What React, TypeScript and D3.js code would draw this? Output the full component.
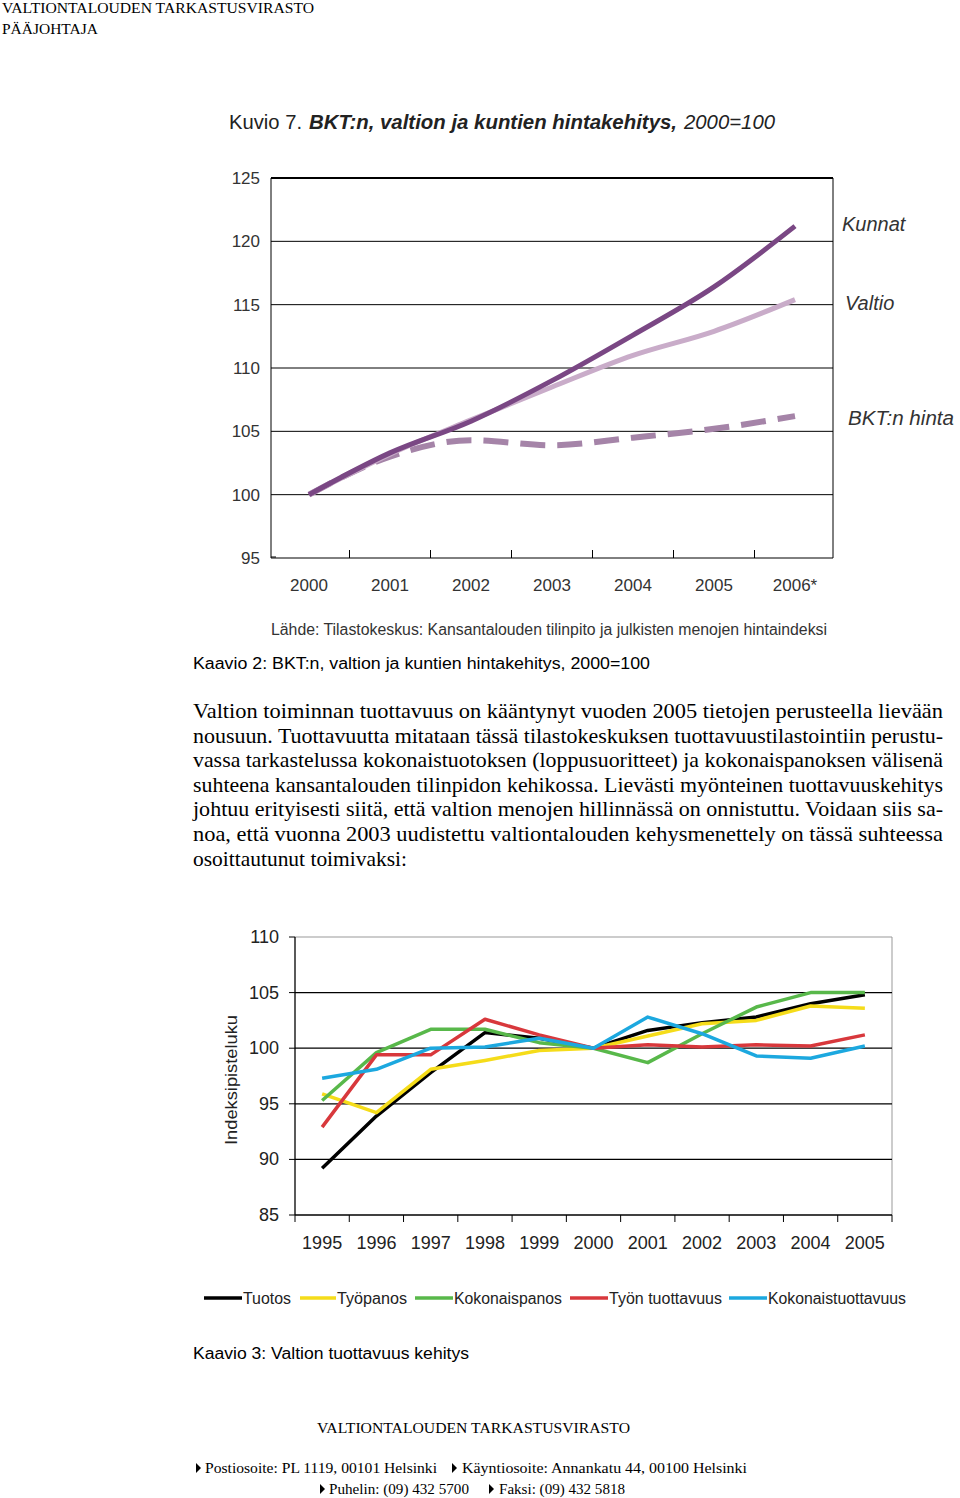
import React from 'react';
import * as d3 from 'd3';

// ---- Chart 1 data: price development, 2000=100 ----
const priceYears = ['2000', '2001', '2002', '2003', '2004', '2005', '2006*'];
const kunnat = [100, 103.3, 105.8, 109.0, 112.6, 116.4, 121.2];
const valtio = [100, 103.2, 105.9, 108.5, 111.0, 112.9, 115.4];
const bktHinta = [100, 103.0, 104.3, 103.9, 104.5, 105.2, 106.2];
const priceTicks = [95, 100, 105, 110, 115, 120, 125];

// ---- Chart 2 data: state productivity ----
const prodYears = ['1995', '1996', '1997', '1998', '1999', '2000', '2001', '2002', '2003', '2004', '2005'];
const tuotos = [89.2, 93.9, 97.8, 101.4, 100.9, 100, 101.6, 102.3, 102.8, 104.0, 104.8];
const tyopanos = [95.9, 94.2, 98.1, 98.9, 99.8, 100, 101.1, 102.2, 102.5, 103.8, 103.6];
const kokonaispanos = [95.3, 99.6, 101.7, 101.7, 100.5, 100, 98.7, 101.3, 103.7, 105.0, 105.0];
const tyonTuottavuus = [92.9, 99.4, 99.4, 102.6, 101.2, 100, 100.3, 100.1, 100.3, 100.2, 101.2];
const kokonaistuottavuus = [97.3, 98.1, 100.0, 100.1, 100.9, 100, 102.8, 101.3, 99.3, 99.1, 100.2];
const prodTicks = [85, 90, 95, 100, 105, 110];

const prodSeries = [
  { name: 'Tuotos', values: tuotos, color: '#000000', len: 48 },
  { name: 'Työpanos', values: tyopanos, color: '#f5dc1a', len: 70 },
  { name: 'Kokonaispanos', values: kokonaispanos, color: '#58b84a', len: 108 },
  { name: 'Työn tuottavuus', values: tyonTuottavuus, color: '#d8383c', len: 113 },
  { name: 'Kokonaistuottavuus', values: kokonaistuottavuus, color: '#1ca8df', len: 138 },
];

const paragraph = [
  'Valtion toiminnan tuottavuus on kääntynyt vuoden 2005 tietojen perusteella lievään',
  'nousuun. Tuottavuutta mitataan tässä tilastokeskuksen tuottavuustilastointiin perustu-',
  'vassa tarkastelussa kokonaistuotoksen (loppusuoritteet) ja kokonaispanoksen välisenä',
  'suhteena kansantalouden tilinpidon kehikossa. Lievästi myönteinen tuottavuuskehitys',
  'johtuu erityisesti siitä, että valtion menojen hillinnässä on onnistuttu. Voidaan siis sa-',
  'noa, että vuonna 2003 uudistettu valtiontalouden kehysmenettely on tässä suhteessa',
  'osoittautunut toimivaksi:',
];

const SANS = 'Liberation Sans, Arial, sans-serif';
const SERIF = 'Liberation Serif, Times New Roman, serif';

function Tri({ x, y }: { x: number; y: number }) {
  return <path d={`M${x},${y - 5}L${x + 5},${y}L${x},${y + 5}Z`} fill="#000" />;
}

export default function App() {
  // chart 1 scales
  const x1 = d3.scalePoint<string>().domain(priceYears).range([309, 795]);
  const y1 = d3.scaleLinear().domain([95, 125]).range([558, 178]);
  const step1 = x1.step();
  const line1 = d3
    .line<number>()
    .x((_, i) => x1(priceYears[i]) as number)
    .y((d) => y1(d))
    .curve(d3.curveMonotoneX);

  // chart 2 scales
  const x2 = d3.scaleBand<string>().domain(prodYears).range([295, 892]);
  const y2 = d3.scaleLinear().domain([85, 110]).range([1215, 937]);
  const cx2 = (i: number) => (x2(prodYears[i]) as number) + x2.bandwidth() / 2;
  const line2 = d3
    .line<number>()
    .x((_, i) => cx2(i))
    .y((d) => y2(d));

  const legendItems = [
    { x: 204, tx: 243 },
    { x: 300, tx: 337 },
    { x: 415, tx: 454 },
    { x: 570, tx: 609 },
    { x: 729, tx: 768 },
  ];

  return (
    <svg
      width={960}
      height={1498}
      style={{ position: 'absolute', left: 0, top: 0, background: '#fff' }}
    >
      <rect x={0} y={0} width={960} height={1498} fill="#fff" />
      {/* header */}
      <text x={2} y={13} fontFamily={SERIF} fontSize={15} textLength={312} lengthAdjust="spacingAndGlyphs">
        VALTIONTALOUDEN TARKASTUSVIRASTO
      </text>
      <text x={2} y={34} fontFamily={SERIF} fontSize={15} textLength={96} lengthAdjust="spacingAndGlyphs">
        PÄÄJOHTAJA
      </text>

      {/* ===== Chart 1 ===== */}
      <text x={229} y={129} fontFamily={SANS} fontSize={21} fill="#222" textLength={73} lengthAdjust="spacingAndGlyphs">
        Kuvio 7.
      </text>
      <text x={309} y={129} fontFamily={SANS} fontSize={20} fontWeight="bold" fontStyle="italic" fill="#222" textLength={368} lengthAdjust="spacingAndGlyphs">
        BKT:n, valtion ja kuntien hintakehitys,
      </text>
      <text x={684} y={129} fontFamily={SANS} fontSize={21} fontStyle="italic" fill="#222" textLength={91} lengthAdjust="spacingAndGlyphs">
        2000=100
      </text>

      {priceTicks.map((t) => (
        <g key={t}>
          {t > 95 && (
            <line x1={271} x2={833} y1={y1(t)} y2={y1(t)} stroke="#000" strokeWidth={t === 125 ? 2 : 1} />
          )}
          <text x={260} y={y1(t) + 6} textAnchor="end" fontFamily={SANS} fontSize={17} fill="#333">
            {t}
          </text>
        </g>
      ))}
      <line x1={271} x2={276} y1={557} y2={557} stroke="#000" />
      <line x1={271} x2={271} y1={178} y2={558} stroke="#000" strokeWidth={1} />
      <line x1={833} x2={833} y1={178} y2={558} stroke="#000" strokeWidth={1} />
      <line x1={271} x2={833} y1={558} y2={558} stroke="#000" strokeWidth={1} />
      {priceYears.slice(1).map((yr) => (
        <line
          key={yr}
          x1={(x1(yr) as number) - step1 / 2}
          x2={(x1(yr) as number) - step1 / 2}
          y1={550}
          y2={558}
          stroke="#000"
        />
      ))}
      {priceYears.map((yr) => (
        <text key={yr} x={x1(yr) as number} y={591} textAnchor="middle" fontFamily={SANS} fontSize={17} fill="#333">
          {yr}
        </text>
      ))}

      <path d={line1(bktHinta) as string} fill="none" stroke="#a584a8" strokeWidth={6} strokeDasharray="25 12" />
      <path d={line1(valtio) as string} fill="none" stroke="#c9acc9" strokeWidth={5} />
      <path d={line1(kunnat) as string} fill="none" stroke="#7a4784" strokeWidth={5} />

      <text x={842} y={231} fontFamily={SANS} fontSize={20} fontStyle="italic" fill="#333">Kunnat</text>
      <text x={845} y={310} fontFamily={SANS} fontSize={20} fontStyle="italic" fill="#333">Valtio</text>
      <text x={848} y={425} fontFamily={SANS} fontSize={20} fontStyle="italic" fill="#333" textLength={106} lengthAdjust="spacingAndGlyphs">BKT:n hinta</text>

      <text x={271} y={635} fontFamily={SANS} fontSize={16} fill="#333" textLength={556} lengthAdjust="spacingAndGlyphs">
        Lähde: Tilastokeskus: Kansantalouden tilinpito ja julkisten menojen hintaindeksi
      </text>

      <text x={193} y={669} fontFamily={SANS} fontSize={16} fill="#000" textLength={457} lengthAdjust="spacingAndGlyphs">
        Kaavio 2: BKT:n, valtion ja kuntien hintakehitys, 2000=100
      </text>

      {/* paragraph */}
      {paragraph.map((ln, i) => (
        <text
          key={i}
          x={193}
          y={718 + i * 24.6}
          fontFamily={SERIF}
          fontSize={21}
          fill="#000"
          {...(i < paragraph.length - 1 ? { textLength: 750, lengthAdjust: 'spacingAndGlyphs' } : { textLength: 214, lengthAdjust: 'spacingAndGlyphs' })}
        >
          {ln}
        </text>
      ))}

      {/* ===== Chart 2 ===== */}
      <line x1={295} x2={892} y1={937} y2={937} stroke="#999" />
      <line x1={892} x2={892} y1={937} y2={1215} stroke="#999" />
      {prodTicks.map((t) => (
        <g key={t}>
          {t > 85 && t < 110 && (
            <line x1={295} x2={892} y1={y2(t)} y2={y2(t)} stroke="#000" strokeWidth={1.3} />
          )}
          <line x1={289} x2={295} y1={y2(t)} y2={y2(t)} stroke="#000" />
          <text x={279} y={y2(t) + 6} textAnchor="end" fontFamily={SANS} fontSize={18} fill="#222">
            {t}
          </text>
        </g>
      ))}
      <line x1={295} x2={295} y1={937} y2={1215} stroke="#000" strokeWidth={1.3} />
      <line x1={295} x2={892} y1={1215} y2={1215} stroke="#000" strokeWidth={1.3} />
      {prodYears.map((yr) => (
        <line key={yr} x1={x2(yr) as number} x2={x2(yr) as number} y1={1215} y2={1222} stroke="#000" />
      ))}
      <line x1={892} x2={892} y1={1215} y2={1222} stroke="#000" />
      {prodYears.map((yr, i) => (
        <text key={yr} x={cx2(i)} y={1249} textAnchor="middle" fontFamily={SANS} fontSize={18} fill="#222">
          {yr}
        </text>
      ))}
      <text
        transform="translate(237,1080) rotate(-90)"
        textAnchor="middle"
        fontFamily={SANS}
        fontSize={17}
        fill="#222"
        textLength={130}
        lengthAdjust="spacingAndGlyphs"
      >
        Indeksipisteluku
      </text>

      {prodSeries.map((s) => (
        <path key={s.name} d={line2(s.values) as string} fill="none" stroke={s.color} strokeWidth={3.5} strokeLinejoin="round" />
      ))}

      {prodSeries.map((s, i) => (
        <g key={s.name}>
          <line x1={legendItems[i].x} x2={legendItems[i].tx - 1} y1={1298} y2={1298} stroke={s.color} strokeWidth={3.5} />
          <text
            x={legendItems[i].tx}
            y={1304}
            fontFamily={SANS}
            fontSize={16}
            fill="#222"
            textLength={s.len}
            lengthAdjust="spacingAndGlyphs"
          >
            {s.name}
          </text>
        </g>
      ))}

      <text x={193} y={1359} fontFamily={SANS} fontSize={16} fill="#000" textLength={276} lengthAdjust="spacingAndGlyphs">
        Kaavio 3: Valtion tuottavuus kehitys
      </text>

      {/* footer */}
      <text x={317} y={1433} fontFamily={SERIF} fontSize={15} textLength={313} lengthAdjust="spacingAndGlyphs">
        VALTIONTALOUDEN TARKASTUSVIRASTO
      </text>
      <Tri x={196} y={1468} />
      <text x={205} y={1473} fontFamily={SERIF} fontSize={15} textLength={232} lengthAdjust="spacingAndGlyphs">
        Postiosoite: PL 1119, 00101 Helsinki
      </text>
      <Tri x={452} y={1468} />
      <text x={462} y={1473} fontFamily={SERIF} fontSize={15} textLength={285} lengthAdjust="spacingAndGlyphs">
        Käyntiosoite: Annankatu 44, 00100 Helsinki
      </text>
      <Tri x={320} y={1489} />
      <text x={329} y={1494} fontFamily={SERIF} fontSize={15} textLength={140} lengthAdjust="spacingAndGlyphs">
        Puhelin: (09) 432 5700
      </text>
      <Tri x={489} y={1489} />
      <text x={499} y={1494} fontFamily={SERIF} fontSize={15} textLength={126} lengthAdjust="spacingAndGlyphs">
        Faksi: (09) 432 5818
      </text>
    </svg>
  );
}
